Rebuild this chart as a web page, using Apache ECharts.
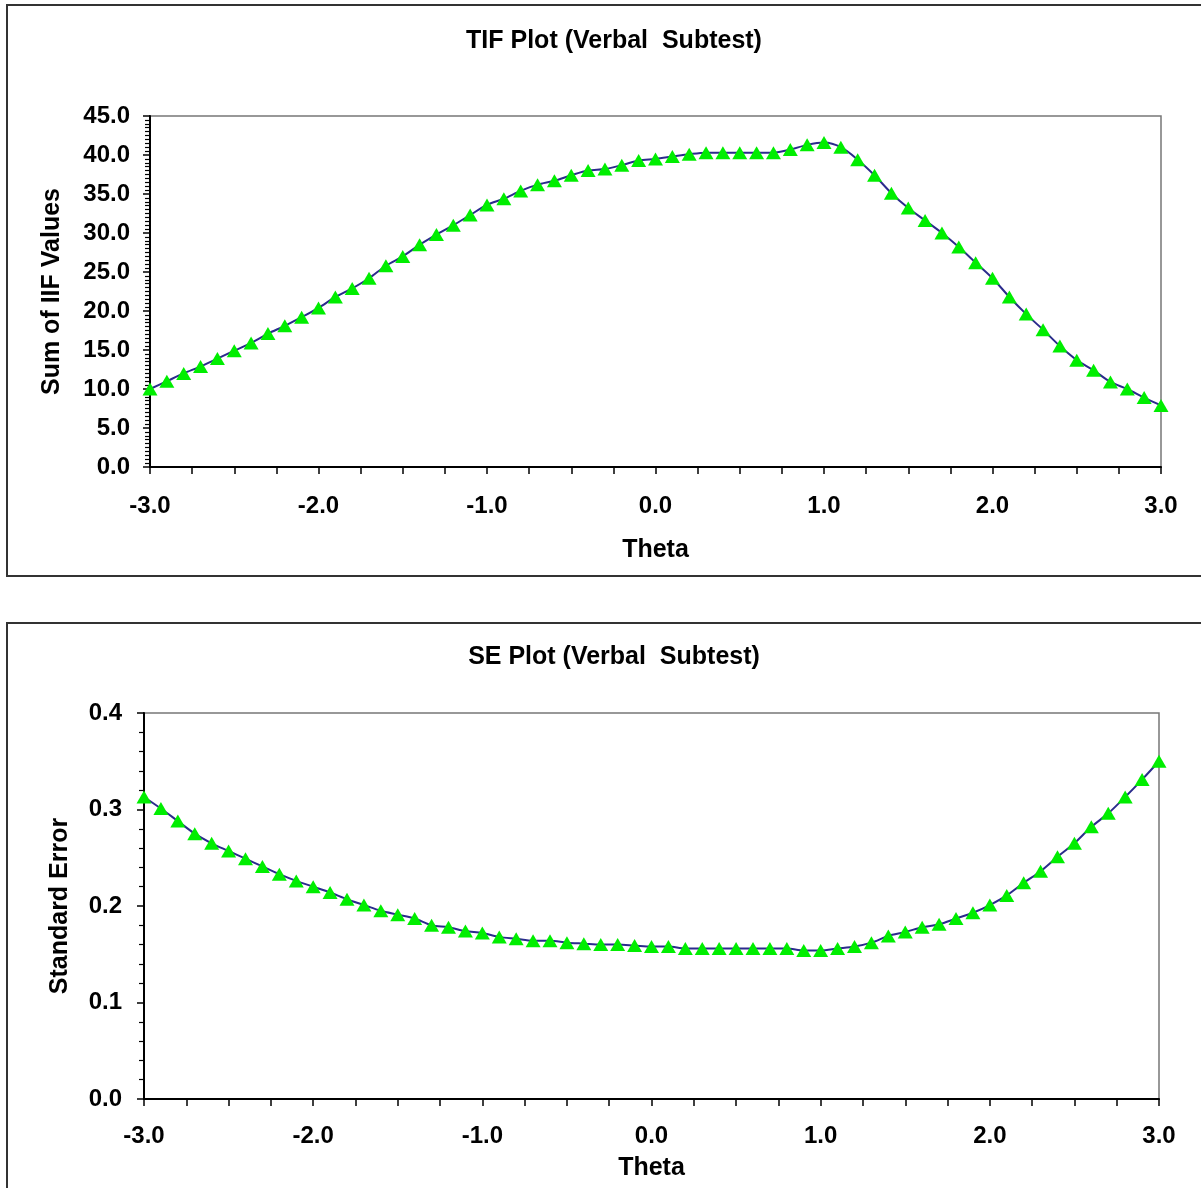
<!DOCTYPE html>
<html>
<head>
<meta charset="utf-8">
<script src="https://cdn.jsdelivr.net/npm/echarts@6/dist/echarts.min.js"></script>
<style>
html,body{margin:0;padding:0;background:#fff;}
#c{width:1201px;height:1188px;}
</style>
</head>
<body>
<div id="c"></div>
<script>
var theta = [-3.0,-2.9,-2.8,-2.7,-2.6,-2.5,-2.4,-2.3,-2.2,-2.1,-2.0,-1.9,-1.8,-1.7,-1.6,-1.5,-1.4,-1.3,-1.2,-1.1,-1.0,-0.9,-0.8,-0.7,-0.6,-0.5,-0.4,-0.3,-0.2,-0.1,0.0,0.1,0.2,0.3,0.4,0.5,0.6,0.7,0.8,0.9,1.0,1.1,1.2,1.3,1.4,1.5,1.6,1.7,1.8,1.9,2.0,2.1,2.2,2.3,2.4,2.5,2.6,2.7,2.8,2.9,3.0];
var tifValues = [10.0,11.0,12.0,12.9,13.9,14.9,15.9,17.1,18.1,19.2,20.4,21.8,22.9,24.2,25.8,27.0,28.5,29.8,31.0,32.3,33.6,34.4,35.4,36.2,36.7,37.4,38.0,38.2,38.7,39.3,39.5,39.8,40.1,40.3,40.3,40.3,40.3,40.3,40.7,41.3,41.6,41.0,39.4,37.4,35.1,33.2,31.6,30.0,28.2,26.2,24.2,21.8,19.6,17.6,15.5,13.7,12.4,10.9,10.0,8.9,7.9];
var seValues = [0.313,0.301,0.288,0.275,0.265,0.257,0.249,0.241,0.233,0.226,0.220,0.214,0.207,0.201,0.195,0.191,0.187,0.180,0.178,0.174,0.172,0.168,0.166,0.164,0.164,0.162,0.161,0.160,0.160,0.159,0.158,0.158,0.156,0.156,0.156,0.156,0.156,0.156,0.156,0.154,0.154,0.156,0.158,0.162,0.169,0.173,0.178,0.181,0.187,0.193,0.201,0.211,0.224,0.236,0.251,0.265,0.282,0.296,0.313,0.331,0.350];
var titles = ['TIF Plot (Verbal  Subtest)', 'SE Plot (Verbal  Subtest)'];
var yNames = ['Sum of IIF Values', 'Standard Error'];
var xName = 'Theta';

var FONT = '"Liberation Sans", Arial, sans-serif';
function pairs(xs, ys){ return xs.map(function(x,i){ return [x, ys[i]]; }); }

var chart = echarts.init(document.getElementById('c'), null, {renderer:'canvas'});
function xAxisCfg(gi, gap, margin){
  return {
    gridIndex: gi, type:'value', min:-3, max:3, interval:1,
    name: xName, nameLocation:'middle', nameGap: gap,
    nameTextStyle:{fontFamily:FONT, fontWeight:'bold', fontSize:25, color:'#000'},
    axisLine:{show:true, onZero:false, lineStyle:{color:'#000', width:2}},
    axisTick:{show:true, inside:false, length:7, lineStyle:{color:'#000', width:1.5}},
    minorTick:{show:true, splitNumber:4, length:7, lineStyle:{color:'#000', width:1.5}},
    axisLabel:{margin:margin, fontFamily:FONT, fontWeight:'bold', fontSize:24, color:'#000',
      formatter:function(v){ return v.toFixed(1); }},
    splitLine:{show:false}
  };
}
function yAxisCfg(gi, max, interval, minorSplit, gap, margin, name){
  return {
    gridIndex: gi, type:'value', min:0, max:max, interval:interval,
    name: name, nameLocation:'middle', nameGap: gap, nameRotate:90,
    nameTextStyle:{fontFamily:FONT, fontWeight:'bold', fontSize:25, color:'#000'},
    axisLine:{show:true, onZero:false, lineStyle:{color:'#000', width:2}},
    axisTick:{show:true, inside:false, length:7, lineStyle:{color:'#000', width:1.5}},
    minorTick:{show:true, splitNumber:minorSplit, length:5, lineStyle:{color:'#000', width:1.2}},
    axisLabel:{margin:margin, fontFamily:FONT, fontWeight:'bold', fontSize:24, color:'#000',
      formatter:function(v){ return v.toFixed(1); }},
    splitLine:{show:false}
  };
}
var seriesStyle = {
  type:'line', smooth:0.3, symbol:'triangle', symbolSize:[15,13],
  lineStyle:{color:'#2B2B8C', width:2},
  itemStyle:{color:'#00EE00', borderWidth:0},
  z:3
};
chart.setOption({
  animation:false,
  backgroundColor:'#fff',
  graphic:[
    {type:'rect', shape:{x:7, y:5, width:1210, height:571}, style:{fill:'none', stroke:'#333', lineWidth:2}, silent:true},
    {type:'rect', shape:{x:7, y:623, width:1210, height:580}, style:{fill:'none', stroke:'#333', lineWidth:2}, silent:true}
  ],
  title:[
    {text:titles[0], left:609, top:24, textAlign:'center', textStyle:{fontFamily:FONT, fontWeight:'bold', fontSize:25, color:'#000'}},
    {text:titles[1], left:609, top:640, textAlign:'center', textStyle:{fontFamily:FONT, fontWeight:'bold', fontSize:25, color:'#000'}}
  ],
  grid:[
    {left:150, top:116, width:1011, height:351, show:true, borderColor:'#777', borderWidth:1.5, backgroundColor:'#fff'},
    {left:144, top:713, width:1015, height:386, show:true, borderColor:'#777', borderWidth:1.5, backgroundColor:'#fff'}
  ],
  xAxis:[ xAxisCfg(0, 71, 27), xAxisCfg(1, 57, 25) ],
  yAxis:[ yAxisCfg(0, 45, 5, 10, 85, 20, yNames[0]), yAxisCfg(1, 0.4, 0.1, 5, 71, 22, yNames[1]) ],
  series:[
    Object.assign({}, seriesStyle, {xAxisIndex:0, yAxisIndex:0, data:pairs(theta, tifValues)}),
    Object.assign({}, seriesStyle, {xAxisIndex:1, yAxisIndex:1, data:pairs(theta, seValues)})
  ]
});
</script>
</body>
</html>
